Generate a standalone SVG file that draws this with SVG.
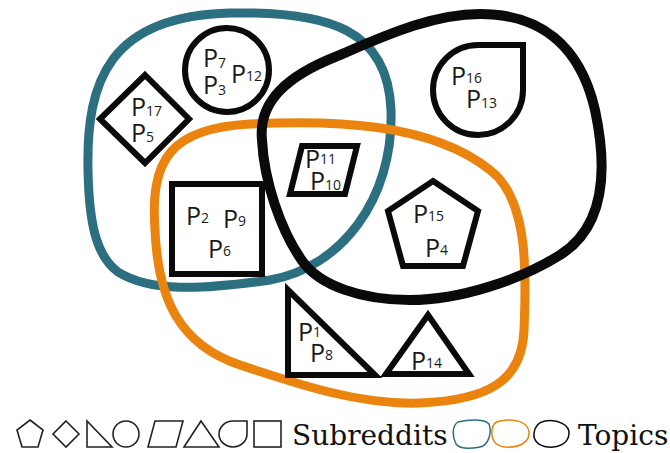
<svg xmlns="http://www.w3.org/2000/svg" width="670" height="453" viewBox="0 0 670 453">
<style>
.blob{fill:none;stroke-linejoin:round}
.teal{stroke:#2b6f80}
.orange{stroke:#ea840f}
.black{stroke:#0a0a0a}
.shape{fill:#fff;stroke:#0a0a0a;stroke-width:6;stroke-linejoin:miter}
.lg{fill:#fff;stroke:#222;stroke-width:1.6}
.p{font-family:"Open Sans","Noto Sans",sans-serif;font-size:25px;fill:#1a1a1a}
.s{font-size:14px}
.leg{font-family:"DejaVu Serif",serif;font-size:28px;fill:#111}
</style>
<rect width="670" height="453" fill="#fff"/>
<g id="sets">
<path class="blob teal" stroke-width="9" d="M 88,170 C 86,80 110,16 230,13 C 330,11 388,30 391,110 C 394,200 340,268 270,280 C 200,290 150,292 118,272 C 95,255 89,220 88,170 Z"/>
<path class="blob orange" stroke-width="9" d="M 155,230 C 150,160 170,128 250,124 C 330,120 430,122 490,170 C 530,200 526,280 524,330 C 522,380 490,400 420,403 C 360,405 300,385 240,365 C 180,345 158,300 155,230 Z"/>
<path class="blob black" stroke-width="10" d="M 262,140 C 258,100 290,75 335,57 C 380,38 430,14 480,14 C 540,14 580,45 595,110 C 610,180 600,230 560,255 C 520,280 460,300 410,300 C 360,300 320,285 303,262 C 280,230 264,180 262,140 Z"/>
</g>
<g id="circle">
<circle class="shape" stroke-width="7" cx="227" cy="70" r="42"/>
<text class="p"><tspan x="203" y="67">P</tspan><tspan class="s" dy="1">7</tspan><tspan x="203" y="94">P</tspan><tspan class="s" dy="1">3</tspan></text>
<text class="p" x="231" y="83">P<tspan class="s" dy="-2">12</tspan></text>
</g>
<g id="diamond">
<polygon class="shape" points="145,75 189,119 145,163 100,119"/>
<text class="p"><tspan x="131" y="116">P</tspan><tspan class="s">17</tspan><tspan x="131" y="142">P</tspan><tspan class="s">5</tspan></text>
</g>
<g id="drop">
<path class="shape" d="M 478,45 L 523,45 L 523,90 A 45 45 0 1 1 478,45 Z"/>
<text class="p"><tspan x="451" y="85">P</tspan><tspan class="s" dy="-2">16</tspan><tspan x="466" y="108">P</tspan><tspan class="s">13</tspan></text>
</g>
<g id="parallelogram">
<polygon class="shape" stroke-width="4" points="302,146 357,146 345,194 290,194"/>
<text class="p"><tspan x="305" y="168">P</tspan><tspan class="s" dy="-4">11</tspan><tspan x="310" y="190">P</tspan><tspan class="s">10</tspan></text>
</g>
<g id="square">
<rect class="shape" stroke-width="7" x="172" y="184" width="90" height="90"/>
<text class="p"><tspan x="186" y="225">P</tspan><tspan class="s" dy="-2">2</tspan><tspan x="208" y="258">P</tspan><tspan class="s" dy="-2">6</tspan></text>
<text class="p" x="223" y="228">P<tspan class="s" dy="-2">9</tspan></text>
</g>
<g id="pentagon">
<polygon class="shape" points="433,181 478,211 463,266 403,266 388,211"/>
<text class="p"><tspan x="413" y="223">P</tspan><tspan class="s" dy="-2">15</tspan><tspan x="425" y="257">P</tspan><tspan class="s" dy="-2">4</tspan></text>
</g>
<g id="right-triangle">
<polygon class="shape" stroke-width="7" points="288,290 288,375 375,375"/>
<text class="p"><tspan x="298" y="341">P</tspan><tspan class="s" dy="-4">1</tspan><tspan x="310" y="362">P</tspan><tspan class="s" dy="-2">8</tspan></text>
</g>
<g id="triangle">
<polygon class="shape" points="428,315 469,374 386,374"/>
<text class="p" x="411" y="370">P<tspan class="s" dy="-2">14</tspan></text>
</g>
<g id="legend">
<polygon class="lg" points="30,420 43,430 38,447 22,447 17,430"/>
<polygon class="lg" points="66,421 79,434 66,447 53,434"/>
<polygon class="lg" points="87,421 87,447 112,447"/>
<circle class="lg" cx="126" cy="434" r="13"/>
<polygon class="lg" points="155,421 183,421 176,447 148,447"/>
<polygon class="lg" points="201,421 219,447 184,447"/>
<path class="lg" d="M 233,421 L 247,421 L 247,434 A 14 13 0 1 1 233,421 Z"/>
<rect class="lg" x="254" y="421" width="27" height="26"/>
<text class="leg" x="292" y="445">Subreddits</text>
<path class="blob teal" stroke-width="1.5" d="M 458,422 C 470,419 485,419 489,424 C 492,432 489,445 480,447 C 470,449 460,449 456,444 C 452,436 452,426 458,422 Z"/>
<path class="blob orange" stroke-width="1.5" d="M 500,421 C 515,418 528,422 529,432 C 530,443 518,448 505,447 C 494,446 491,438 492,430 C 493,424 495,422 500,421 Z"/>
<path class="blob black" stroke-width="1.5" d="M 545,421 C 558,419 570,425 569,434 C 568,444 558,448 548,447 C 538,446 533,440 534,433 C 535,426 539,422 545,421 Z"/>
<text class="leg" x="578" y="445">Topics</text>
</g>
</svg>
